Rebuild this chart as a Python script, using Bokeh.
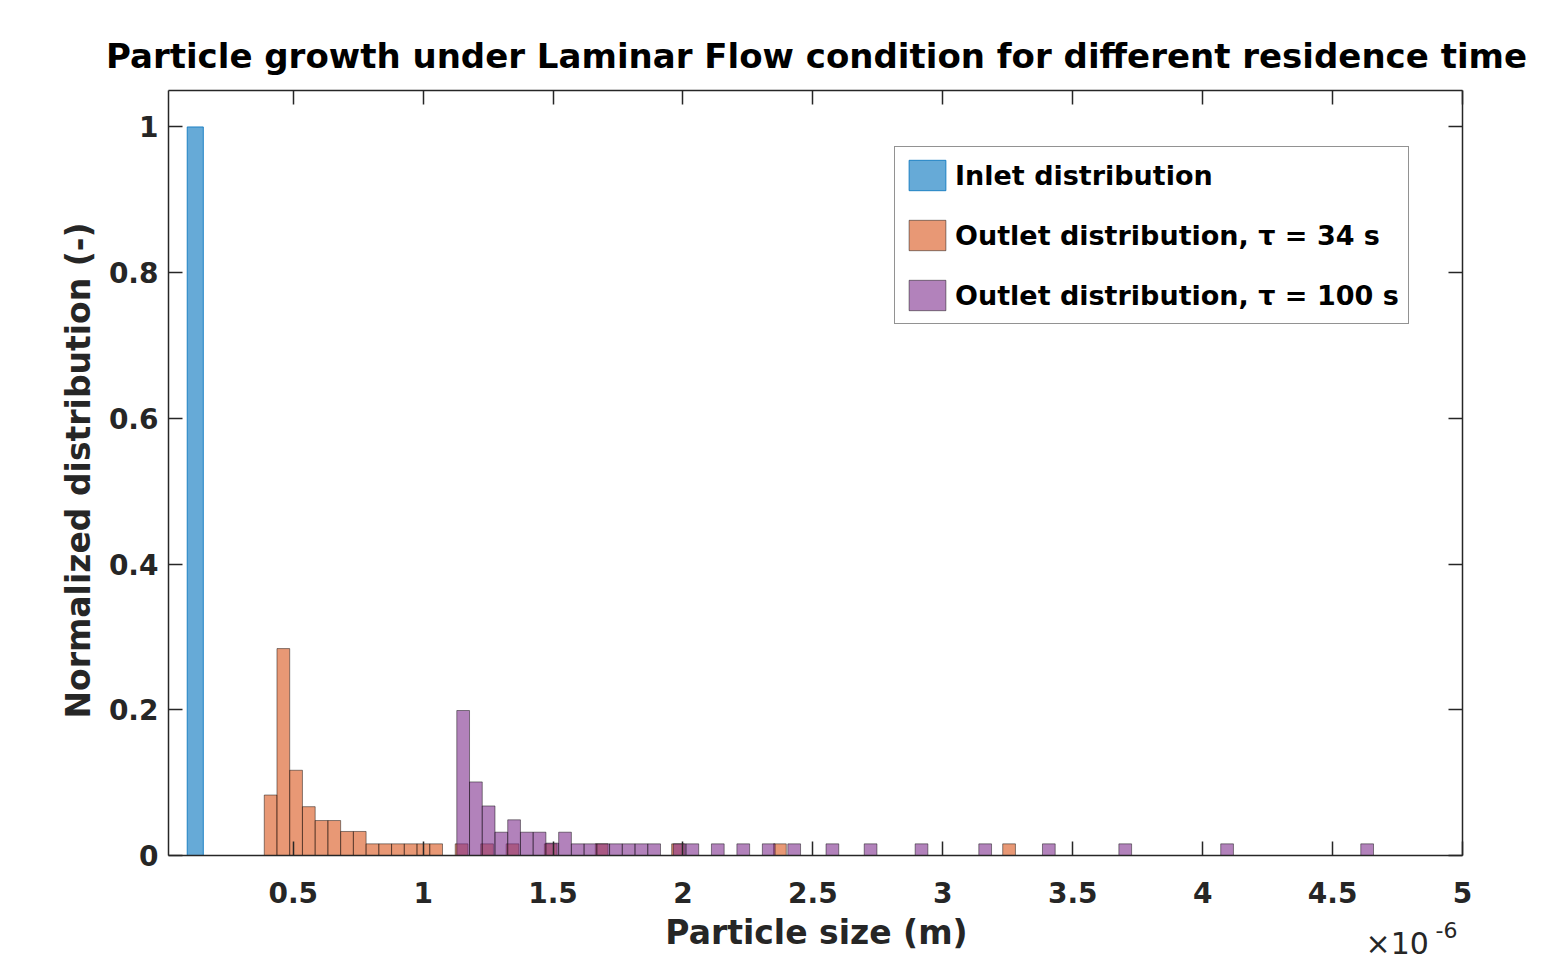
import math
from bokeh.plotting import figure
from bokeh.models import Range1d, LinearAxis, FixedTicker, NumeralTickFormatter, Label, Legend, LegendItem
from bokeh.embed import file_html
from bokeh.resources import INLINE

# Particle size in units of 1e-6 m (axis shows x10^-6 multiplier)
inlet_centers = [0.123]
inlet_heights = [1.0]
inlet_width = 0.062

bin_width = 0.049

orange_centers = [0.413, 0.462, 0.511, 0.560, 0.609, 0.658, 0.707, 0.756, 0.805, 0.854,
                  0.903, 0.952, 1.001, 1.050, 1.148, 1.246, 1.344, 1.491, 1.687, 1.981,
                  2.373, 3.255]
orange_heights = [0.083, 0.284, 0.117, 0.067, 0.048, 0.048, 0.033, 0.033, 0.016, 0.016,
                  0.016, 0.016, 0.016, 0.016, 0.016, 0.016, 0.016, 0.016, 0.016, 0.016,
                  0.016, 0.016]

purple_centers = [1.154, 1.203, 1.252, 1.301, 1.350, 1.399, 1.448, 1.497, 1.546, 1.595,
                  1.644, 1.693, 1.742, 1.791, 1.840, 1.889, 1.987, 2.036, 2.134, 2.232,
                  2.330, 2.428, 2.575, 2.722, 2.918, 3.163, 3.408, 3.702, 4.094, 4.633]
purple_heights = [0.199, 0.101, 0.068, 0.032, 0.049, 0.032, 0.032, 0.017, 0.032, 0.016,
                  0.016, 0.016, 0.016, 0.016, 0.016, 0.016, 0.016, 0.016, 0.016, 0.016,
                  0.016, 0.016, 0.016, 0.016, 0.016, 0.016, 0.016, 0.016, 0.016, 0.016]

x_ticks = [0.5, 1, 1.5, 2, 2.5, 3, 3.5, 4, 4.5, 5]
y_ticks = [0, 0.2, 0.4, 0.6, 0.8, 1]
x_lim = (0.02, 5.0)
y_lim = (0.0, 1.05)

title_text = "Particle growth under Laminar Flow condition for different residence time"
x_label = "Particle size (m)"
y_label = "Normalized distribution (-)"
labels = ["Inlet distribution",
          "Outlet distribution, \u03c4 = 34 s",
          "Outlet distribution, \u03c4 = 100 s"]
colors = ["#0072BD", "#D95319", "#7E2F8E"]

FONT = "DejaVu Sans"
AX = "#262626"
W, H = 1549, 964
# axes box in page pixels
BOX_L, BOX_R, BOX_T, BOX_B = 168, 1462, 90, 855

# The plotting frame covers the whole page; the axes box is drawn with
# fixed-location axes so that every text around it can live inside the frame.
px_x = (BOX_R - BOX_L) / (x_lim[1] - x_lim[0])
px_y = (BOX_B - BOX_T) / (y_lim[1] - y_lim[0])
xr = Range1d(x_lim[0] - BOX_L / px_x, x_lim[0] + (W - BOX_L) / px_x)
yr = Range1d(y_lim[0] - (H - BOX_B) / px_y, y_lim[0] + BOX_B / px_y)

p = figure(width=W, height=H, output_backend="svg", toolbar_location=None,
           x_range=xr, y_range=yr, min_border=0,
           min_border_left=0, min_border_right=0, min_border_top=0, min_border_bottom=0)
p.background_fill_color = "white"
p.border_fill_color = "white"
p.grid.visible = False
p.outline_line_color = None

r1 = p.vbar(x=inlet_centers, width=inlet_width, top=inlet_heights, bottom=0,
            fill_color=colors[0], fill_alpha=0.6, line_color=colors[0], line_alpha=0.8, line_width=1)
r2 = p.vbar(x=orange_centers, width=bin_width, top=orange_heights, bottom=0,
            fill_color=colors[1], fill_alpha=0.6, line_color="black", line_alpha=0.45, line_width=1)
r3 = p.vbar(x=purple_centers, width=bin_width, top=purple_heights, bottom=0,
            fill_color=colors[2], fill_alpha=0.6, line_color="black", line_alpha=0.45, line_width=1)

def style_axis(ax, show_labels):
    ax.axis_line_color = AX
    ax.axis_line_width = 1.5
    ax.major_tick_line_color = AX
    ax.major_tick_line_width = 1.5
    ax.major_tick_in = 14
    ax.major_tick_out = 0
    ax.minor_tick_line_color = None
    ax.major_label_text_font = FONT
    ax.major_label_text_font_style = "bold"
    if show_labels:
        ax.major_label_text_font_size = "28px"
        ax.major_label_text_color = AX
    else:
        ax.major_label_text_font_size = "1px"
        ax.major_label_text_color = None
        ax.major_label_standoff = 0

xa = p.xaxis[0]
xa.ticker = FixedTicker(ticks=x_ticks)
xa.formatter = NumeralTickFormatter(format="0.[0]")
xa.fixed_location = y_lim[0]
xa.bounds = x_lim
style_axis(xa, True)
xa.major_label_standoff = 26

ya = p.yaxis[0]
ya.ticker = FixedTicker(ticks=y_ticks)
ya.formatter = NumeralTickFormatter(format="0.[0]")
ya.fixed_location = x_lim[0]
ya.bounds = y_lim
style_axis(ya, True)
ya.major_label_standoff = 10

top_ax = LinearAxis(ticker=FixedTicker(ticks=x_ticks), fixed_location=y_lim[1], bounds=x_lim)
style_axis(top_ax, False)
p.add_layout(top_ax, "above")
right_ax = LinearAxis(ticker=FixedTicker(ticks=y_ticks), fixed_location=x_lim[1], bounds=y_lim)
style_axis(right_ax, False)
p.add_layout(right_ax, "right")

# title and axis labels (screen offsets from the page's bottom-left corner)
p.add_layout(Label(x=816, y=H - 55, x_units="screen", y_units="screen", text=title_text,
                   text_font=FONT, text_font_style="bold", text_font_size="34px",
                   text_color="black", text_align="center", text_baseline="alphabetic"))
p.add_layout(Label(x=816, y=H - 932, x_units="screen", y_units="screen", text=x_label,
                   text_font=FONT, text_font_style="bold", text_font_size="33px",
                   text_color=AX, text_align="center", text_baseline="alphabetic"))
p.add_layout(Label(x=78, y=H - 470, x_units="screen", y_units="screen", text=y_label,
                   angle=math.pi / 2,
                   text_font=FONT, text_font_style="bold", text_font_size="33px",
                   text_color=AX, text_align="center", text_baseline="alphabetic"))

legend = Legend(items=[LegendItem(label=labels[0], renderers=[r1]),
                       LegendItem(label=labels[1], renderers=[r2]),
                       LegendItem(label=labels[2], renderers=[r3])],
                location=(894, H - 324))
legend.label_text_font = FONT
legend.label_text_font_style = "bold"
legend.label_text_font_size = "27px"
legend.label_text_color = "black"
legend.glyph_width = 46
legend.glyph_height = 38
legend.label_standoff = 5
legend.spacing = 22
legend.padding = 9
legend.border_line_color = AX
legend.border_line_width = 1.5
legend.background_fill_color = "white"
legend.background_fill_alpha = 1
legend.margin = 0
p.add_layout(legend, "center")

# x10^-6 multiplier
p.add_layout(Label(x=1365, y=H - 943, x_units="screen", y_units="screen", text="\u00d710",
                   text_font=FONT, text_font_size="30px", text_color=AX, text_baseline="alphabetic"))
p.add_layout(Label(x=1435, y=H - 929, x_units="screen", y_units="screen", text="-6",
                   text_font=FONT, text_font_size="22px", text_color=AX, text_baseline="alphabetic"))

open("out.html", "w").write(file_html(p, INLINE))
